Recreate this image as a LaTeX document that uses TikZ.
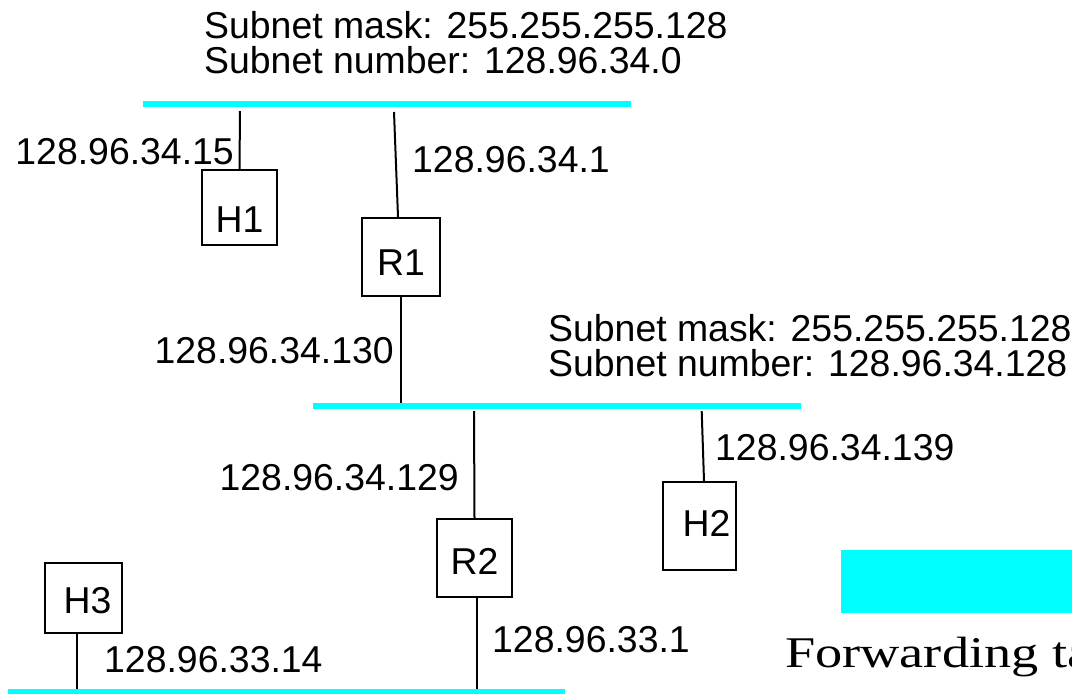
\documentclass[tikz,border=0pt]{standalone}
\usepackage{fontspec}
\setmainfont{Liberation Sans}
\newfontfamily\tablefont{Liberation Serif}[FakeStretch=1.24]
\usetikzlibrary{positioning}
\definecolor{lancyan}{HTML}{00FFFF}
\definecolor{ink}{HTML}{000000}

\begin{document}
\begin{tikzpicture}[
  x=1pt, y=-1pt,
  every node/.style={font=\fontsize{37.4}{35}\selectfont},
  dev/.style={draw=ink, line width=2.4pt, inner sep=0pt, text depth=0pt, minimum width=75pt, minimum height=75pt},
  addr/.style={inner sep=0pt, text=ink},
  wire/.style={draw=ink, line width=2pt},
  lan/.style={draw=lancyan, line width=6.5pt},
]
\useasboundingbox (0,0) rectangle (1072,694);
\clip (0,0) rectangle (1072,694);

% the three ethernet segments
\draw[lan] (143,104) -- (631,104);
\draw[lan] (313,406) -- (801,406);
\draw[lan] (8,692) -- (565,692);

% hosts and routers
\node[dev, text height=49.5pt] (H1) at (239.5,207.5) {H1};
\node[dev, minimum width=78pt, minimum height=78pt, text height=36.5pt] (R1) at (401,257) {R1};
\node[dev, minimum height=78pt, text height=33.5pt] (R2) at (474.5,558) {R2};
\node[dev, minimum width=73pt, minimum height=88pt, text height=21.5pt] (H2) at (699.5,526) {\hspace{14pt}H2};
\node[dev, minimum width=77pt, minimum height=70pt, text height=31.5pt] (H3) at (83.5,598) {\hspace{8pt}H3};

% taps on the segments
\coordinate (tapH1) at (240,111);
\coordinate (tapR1a) at (394,112);
\coordinate (tapR1b) at (401,403);
\coordinate (tapR2a) at (474,411);
\coordinate (tapH2) at (701.7,411);
\coordinate (tapR2b) at (477,689);
\coordinate (tapH3) at (77,689);

\draw[wire] (tapH1) -- (H1.north);
\draw[wire] (tapR1a) -- ([xshift=-3pt]R1.north);
\draw[wire] (R1.south) -- (tapR1b);
\draw[wire] (tapR2a) -- (R2.north);
\draw[wire] (tapH2) -- ([xshift=4.5pt]H2.north);
\draw[wire] ([xshift=2.5pt]R2.south) -- (tapR2b);
\draw[wire] ([xshift=-6.5pt]H3.south) -- (tapH3);

% interface addresses
\node[addr, anchor=base east] (a15) at (234,164) {128.96.34.15};
\node[addr, anchor=base west] (a1) at (412,172) {128.96.34.1};
\node[addr, anchor=base east] (a130) at (394,363) {128.96.34.130};
\node[addr, anchor=base east] (a129) at (459,490) {128.96.34.129};
\node[addr, anchor=base west] (a139) at (715,460) {128.96.34.139};
\node[addr, anchor=base west] (b1) at (492,652) {128.96.33.1};
\node[addr, anchor=base west] (b14) at (104,672) {128.96.33.14};

% subnet notes
\node[addr, anchor=north west, align=left] (net1) at (204,11)
  {Subnet mask: 255.255.255.128\\Subnet number: 128.96.34.0};
\node[addr, anchor=north west, align=left] (net2) at (548,314)
  {Subnet mask: 255.255.255.128\\Subnet number: 128.96.34.128};

% table heading
\fill[lancyan] (841,550) rectangle (1072,613);
\node[addr, anchor=base west, font=\tablefont\fontsize{43.8}{52}\selectfont] (fwd) at (785,667) {Forwarding table};
\end{tikzpicture}
\end{document}
